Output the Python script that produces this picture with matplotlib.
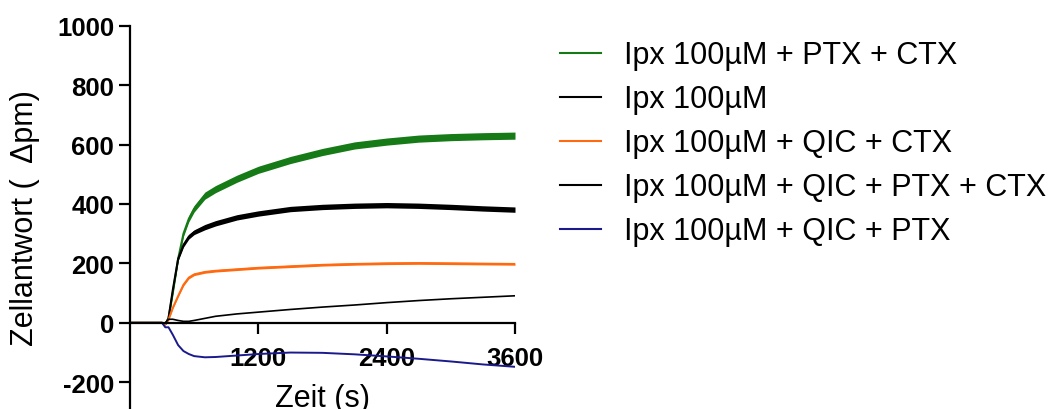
import matplotlib
matplotlib.use("Agg")
import matplotlib.pyplot as plt
from matplotlib.lines import Line2D

plt.rcParams['font.family'] = ['Liberation Sans', 'DejaVu Sans']
plt.rcParams['axes.unicode_minus'] = False

# Daten (Zeit in s, Zellantwort in pm, Fehler = SEM)
zeit = [0, 300, 330, 360, 400, 450, 500, 550, 600, 700, 800, 1000, 1200,
        1500, 1800, 2100, 2400, 2700, 3000, 3300, 3600]

ptx_ctx = [0, 0, -5, 15, 100, 215, 300, 350, 384, 428, 450, 485, 515,
           548, 575, 597, 610, 620, 625, 628, 630]
ptx_ctx_sem = [0, 0, 0, 1, 4, 7, 9, 10, 11, 12, 12, 12, 12,
               12, 12, 12, 12, 12, 12, 12, 12]
ipx = [0, 0, -5, 15, 110, 215, 262, 290, 305, 322, 335, 355, 368,
       383, 390, 394, 396, 394, 390, 385, 381]
ipx_sem = [0, 0, 0, 1, 4, 6, 7, 8, 8, 9, 9, 9, 9,
           9, 9, 9, 9, 9, 9, 9, 9]
qic_ctx = [0, 0, -5, 10, 50, 90, 128, 152, 163, 171, 175, 180, 185,
           190, 195, 198, 200, 201, 200, 199, 198]
qic_ctx_sem = [0, 0, 0, 1, 2, 3, 4, 4, 4, 4, 4, 4, 4,
               4, 4, 4, 4, 4, 4, 4, 4]
qic_ptx_ctx = [0, 0, 0, 12, 12, 8, 5, 5, 8, 15, 22, 30, 36,
               45, 53, 60, 68, 75, 81, 86, 91]
qic_ptx_ctx_sem = [0] * 21
qic_ptx = [0, 0, -15, -15, -40, -75, -95, -105, -112, -116, -115, -110, -105,
           -100, -101, -106, -113, -121, -130, -140, -148]
qic_ptx_sem = [0] * 21

labels = ["Ipx 100µM + PTX + CTX", "Ipx 100µM", "Ipx 100µM + QIC + CTX",
          "Ipx 100µM + QIC + PTX + CTX", "Ipx 100µM + QIC + PTX"]
farben = ["#167a16", "black", "#ff6a10", "black", "#1a1a8c"]
breiten = [1.5, 1.5, 1.5, 1.2, 1.4]

fig = plt.figure(figsize=(10.61, 4.10), dpi=100)
ax = fig.add_axes([130 / 1061, 0.0, 385 / 1061, 1 - 26.7 / 410])

serien = [ptx_ctx, ipx, qic_ctx, qic_ptx_ctx, qic_ptx]
fehler = [ptx_ctx_sem, ipx_sem, qic_ctx_sem, qic_ptx_ctx_sem, qic_ptx_sem]
for werte, sem, farbe, lw in zip(serien, fehler, farben, breiten):
    unten = [w - e for w, e in zip(werte, sem)]
    oben = [w + e for w, e in zip(werte, sem)]
    ax.fill_between(zeit, unten, oben, color=farbe, lw=0)
    ax.plot(zeit, werte, color=farbe, lw=lw)

ax.set_xlim(0, 3600)
ax.set_ylim(-290, 1000)
ax.set_xticks([1200, 2400, 3600])
ax.set_yticks([-200, 0, 200, 400, 600, 800, 1000])

ax.spines['top'].set_visible(False)
ax.spines['right'].set_visible(False)
ax.spines['bottom'].set_position(('data', 0))
for s in ['left', 'bottom']:
    ax.spines[s].set_linewidth(1.6)

ax.tick_params(axis='both', direction='out', length=8, width=1.6,
               labelsize=18.5)
ax.tick_params(axis='x', pad=9)
for t in ax.get_xticklabels() + ax.get_yticklabels():
    t.set_fontweight('bold')

ax.set_ylabel("Zellantwort (  Δpm)", fontsize=22)
ax.yaxis.set_label_coords(-0.235, 0.5)
ax.set_xlabel("Zeit (s)", fontsize=22)
ax.xaxis.set_label_coords(0.5, 0.068)

griffe = [Line2D([], [], color=f, lw=1.5) for f in farben]
fig.legend(griffe, labels, loc='upper left', bbox_to_anchor=(548 / 1061, 1 - 29 / 410),
           frameon=False, fontsize=22, handlelength=1.35, handletextpad=0.75,
           labelspacing=0.46, borderaxespad=0)

fig.savefig("out.png", dpi=100)
